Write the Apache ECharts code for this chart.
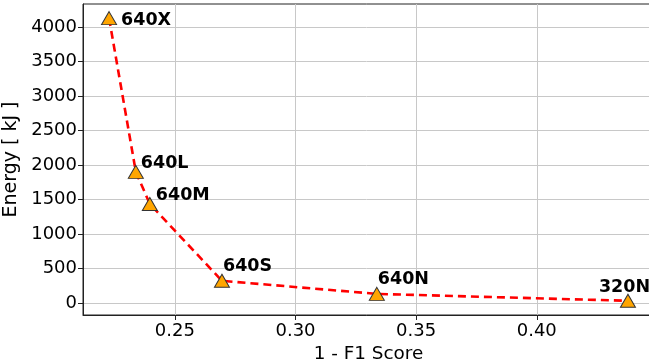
<!DOCTYPE html>
<html>
<head>
<meta charset="utf-8">
<script src="https://cdn.jsdelivr.net/npm/echarts@6/dist/echarts.min.js"></script>
<style>html,body{margin:0;padding:0;background:#fff}#c{width:649px;height:362px}</style>
</head>
<body>
<div id="c"></div>
<script>
const models = ['640X', '640L', '640M', '640S', '640N', '320N'];
const f1Error = [0.2227, 0.2338, 0.2396, 0.2695, 0.3337, 0.4378];
const energy = [4130, 1900, 1435, 320, 130, 30];
const xTicks = [0.25, 0.30, 0.35, 0.40];
const yTicks = [0, 500, 1000, 1500, 2000, 2500, 3000, 3500, 4000];
const labelOffsets = [[12, 2], [5, -8], [6, -8], [1, -14], [1, -14], [-29, -13]];

const chart = echarts.init(document.getElementById('c'));
const font = 'DejaVu Sans';
chart.setOption({
  animation: false,
  grid: { left: 83, right: -5, top: 4, bottom: 47, show: true, borderColor: '#222', borderWidth: 1,
    containLabel: false, outerBoundsMode: 'none' },
  xAxis: {
    type: 'value', min: 0.2119, max: 0.4486,
    name: '1 - F1 Score', nameLocation: 'middle', nameGap: 24,
    nameTextStyle: { fontFamily: font, fontSize: 18.4, color: '#000' },
    axisLine: { show: true, onZero: false, lineStyle: { color: '#222', width: 1 } },
    axisTick: { show: true, inside: false, length: 5, customValues: xTicks, lineStyle: { color: '#222' } },
    axisLabel: { customValues: xTicks, margin: 7, fontFamily: font, fontSize: 18, color: '#000',
      formatter: v => v.toFixed(2) },
    splitLine: { show: true, customValues: xTicks, lineStyle: { color: '#c8c8c8', width: 1 } }
  },
  yAxis: {
    type: 'value', min: -176, max: 4335,
    name: 'Energy [ kJ ]', nameLocation: 'middle', nameGap: 51, nameRotate: 90,
    nameTextStyle: { fontFamily: font, fontSize: 19, color: '#000' },
    axisLine: { show: true, onZero: false, lineStyle: { color: '#222', width: 1 } },
    axisTick: { show: true, inside: false, length: 5, customValues: yTicks, lineStyle: { color: '#222' } },
    axisLabel: { customValues: yTicks, margin: 6, fontFamily: font, fontSize: 18, color: '#000',
      formatter: v => String(Math.round(v)) },
    splitLine: { show: true, customValues: yTicks, lineStyle: { color: '#c8c8c8', width: 1 } }
  },
  series: [{
    type: 'line',
    data: f1Error.map((x, i) => ({
      value: [x, energy[i]],
      label: { offset: labelOffsets[i] }
    })),
    lineStyle: { color: '#ff0000', width: 2.6, type: [8, 5] },
    symbol: 'triangle', symbolSize: [15, 13],
    itemStyle: { color: '#ffa500', borderColor: '#333', borderWidth: 1 },
    label: {
      show: true, position: 'inside', align: 'left', verticalAlign: 'middle',
      fontFamily: font, fontSize: 17.5, fontWeight: 'bold', color: '#000',
      formatter: p => models[p.dataIndex]
    },
    z: 3
  }]
});
</script>
</body>
</html>
